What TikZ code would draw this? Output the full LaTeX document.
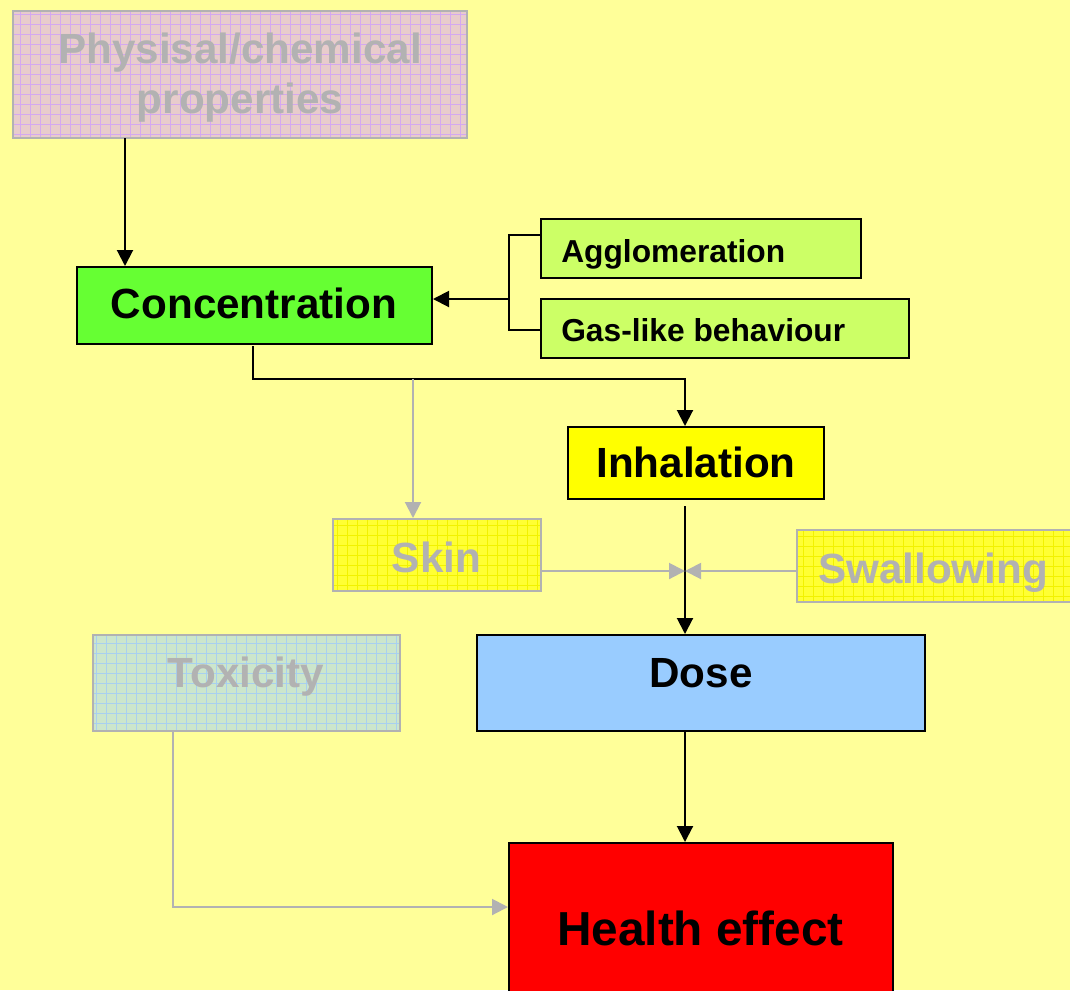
\documentclass[tikz,border=0pt]{standalone}
\usepackage{fontspec}
\setmainfont{Liberation Sans}
\usetikzlibrary{arrows.meta,calc}
\definecolor{bg}{HTML}{FFFF99}
\definecolor{grayc}{HTML}{B2B2B2}
\definecolor{physfill}{HTML}{E8CCCC}
\definecolor{physgrid}{HTML}{D4A8F0}
\definecolor{skinfill}{HTML}{FFFF33}
\definecolor{skingrid}{HTML}{F2F200}
\definecolor{toxfill}{HTML}{CCE6CC}
\definecolor{toxgrid}{HTML}{A8D0F0}
\definecolor{concfill}{HTML}{66FF33}
\definecolor{aggfill}{HTML}{CCFF66}
\definecolor{inhfill}{HTML}{FFFF00}
\definecolor{dosefill}{HTML}{99CCFF}
\definecolor{healthfill}{HTML}{FF0000}
\begin{document}
\begin{tikzpicture}[x=0.75pt,y=-0.75pt,
  box/.style={draw=black, line width=1.5pt, inner sep=0pt, rectangle},
  gbox/.style={draw=grayc, line width=1.5pt, inner sep=0pt, rectangle,
    path picture={\draw[#1, line width=0.5pt, step=7.5pt]
      (path picture bounding box.south west) grid (path picture bounding box.north east);}},
  bigtxt/.style={font=\fontsize{31.65pt}{37.5pt}\selectfont\bfseries, inner sep=0pt, anchor=base},
  hugetxt/.style={font=\fontsize{35.8pt}{42pt}\selectfont\bfseries, inner sep=0pt, anchor=base},
  smalltxt/.style={font=\fontsize{23.8pt}{28pt}\selectfont\bfseries, inner sep=0pt, anchor=base west},
  arr/.style={draw=black, line width=1.5pt, -{Triangle[length=12pt,width=12pt]}},
  plain/.style={draw=black, line width=1.5pt},
  garr/.style={draw=grayc, line width=1.5pt, -{Triangle[length=12pt,width=12pt]}}
]
\clip (0,0) rectangle (1070,990);
\useasboundingbox (0,0) rectangle (1070,990);
\fill[bg] (0,0) rectangle (1070,990);

% boxes
\node[gbox=physgrid, fill=physfill, minimum width=340.5pt, minimum height=95.25pt] (phys) at (240,74.5) {};
\node[box, fill=concfill, minimum width=266.25pt, minimum height=57.75pt] (conc) at (254.5,305.5) {};
\node[box, fill=aggfill, minimum width=240pt, minimum height=44.25pt] (aggl) at (701,248.5) {};
\node[box, fill=aggfill, minimum width=276pt, minimum height=44.25pt] (gas) at (725,328.5) {};
\node[box, fill=inhfill, minimum width=192pt, minimum height=54pt] (inh) at (696,463) {};
\node[gbox=skingrid, fill=skinfill, minimum width=156pt, minimum height=54pt] (skin) at (437,555) {};
\node[gbox=skingrid, fill=skinfill, minimum width=219.75pt, minimum height=54pt] (swal) at (943.5,566) {};
\node[gbox=toxgrid, fill=toxfill, minimum width=230.25pt, minimum height=72pt] (tox) at (246.5,683) {};
\node[box, fill=dosefill, minimum width=336pt, minimum height=72pt] (dose) at (701,683) {};
\node[box, fill=healthfill, minimum width=288pt, minimum height=125.25pt] (health) at (701,926.5) {};

% texts
\node[bigtxt, text=grayc] (physA) at (240,63) {Physisal/chemical};
\node[bigtxt, text=grayc] (physB) at (240,113) {properties};
\node[bigtxt] (concT) at (254,318) {Concentration};
\node[smalltxt] (agglT) at (561,262) {Agglomeration};
\node[smalltxt] (gasT) at (561,341) {Gas-like behaviour};
\node[bigtxt] (inhT) at (696,477) {Inhalation};
\node[bigtxt, text=grayc] (skinT) at (436.5,572) {Skin};
\node[bigtxt, text=grayc] (swalT) at (933,583) {Swallowing};
\node[bigtxt, text=grayc] (toxT) at (246,687) {Toxicity};
\node[bigtxt] (doseT) at (701,687) {Dose};
\node[hugetxt] (healthT) at (700.5,945) {Health effect};

% connectors
\coordinate (p1) at (125,138);
\draw[arr] (p1) -- (p1 |- conc.north);

\coordinate (b1) at (509,235);
\coordinate (b2) at (509,330);
\coordinate (j1) at (509,299);
\draw[plain] (aggl.west |- b1) -- (b1) -- (b2) -- (gas.west |- b2);
\draw[arr] (j1) -- (j1 -| conc.east);

\coordinate (c1) at (253,346);
\coordinate (c2) at (685,379);
\draw[arr] (c1) |- (c2) -- (c2 |- inh.north);

\coordinate (g1) at (413,379);
\draw[garr] (g1) -- (g1 |- skin.north);

\coordinate (x1) at (685,506);
\draw[arr] (x1) -- (x1 |- dose.north);

\coordinate (j2) at (685,571);
\draw[garr] (skin.east |- j2) -- (j2);
\draw[garr] (swal.west |- j2) -- (j2);

\coordinate (x2) at (685,731);
\draw[arr] (x2) -- (x2 |- health.north);

\coordinate (t1) at (173,731);
\coordinate (t2) at (173,907);
\draw[garr] (t1) -- (t2) -- (t2 -| health.west);
\end{tikzpicture}
\end{document}
